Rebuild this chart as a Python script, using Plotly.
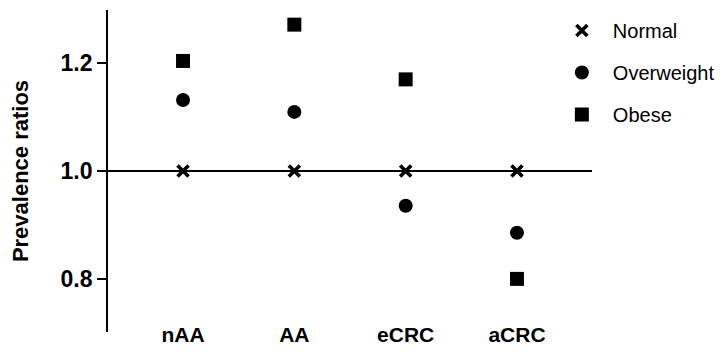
import plotly.graph_objects as go

categories = ["nAA", "AA", "eCRC", "aCRC"]
normal = [1.0, 1.0, 1.0, 1.0]
overweight = [1.131, 1.109, 0.936, 0.886]
obese = [1.203, 1.270, 1.169, 0.801]
y_ticks = [0.8, 1.0, 1.2]

FONT = "Arial, Liberation Sans, sans-serif"
xpos = list(range(len(categories)))

fig = go.Figure()
fig.add_trace(go.Scatter(x=xpos, y=normal, mode="markers", name="Normal", legendgroup="a",
                         marker=dict(symbol="x-thin", size=11, color="black",
                                     line=dict(width=3.6, color="black"))))
fig.add_trace(go.Scatter(x=xpos, y=overweight, mode="markers", name="Overweight", legendgroup="b",
                         marker=dict(symbol="circle", size=14, color="black", line=dict(width=0))))
fig.add_trace(go.Scatter(x=xpos, y=obese, mode="markers", name="Obese", legendgroup="c",
                         marker=dict(symbol="square", size=14, color="black", line=dict(width=0))))

fig.add_shape(type="line", xref="paper", yref="y", x0=0, x1=1, y0=1.0, y1=1.0,
              line=dict(color="black", width=1.8))

fig.update_layout(
    width=727, height=352,
    margin=dict(l=100, r=143, t=2, b=28, autoexpand=False),
    paper_bgcolor="white", plot_bgcolor="white",
    font=dict(family=FONT, color="black"),
    showlegend=True,
    legend=dict(x=0.915, xanchor="left", y=0.997, yanchor="top",
                font=dict(size=20, family=FONT, color="black"),
                tracegroupgap=13, itemwidth=52, bgcolor="rgba(0,0,0,0)"),
    xaxis=dict(range=[-0.674, 3.674], tickvals=xpos, ticktext=categories,
               showline=False, showgrid=False, zeroline=False, ticks="",
               automargin=False,
               tickfont=dict(size=21, family=FONT, color="black", weight="bold"),
               ticklabelstandoff=-12),
    yaxis=dict(range=[0.703, 1.297], tickvals=y_ticks, tickformat=".1f",
               showline=True, linecolor="black", linewidth=1.8,
               ticks="outside", ticklen=9, tickwidth=1.8, tickcolor="black",
               showgrid=False, zeroline=False, automargin=False,
               tickfont=dict(size=23, family=FONT, color="black", weight="bold"),
               title=dict(text="Prevalence ratios", standoff=31,
                          font=dict(size=22, family=FONT, color="black", weight="bold"))),
)

fig.write_html("out.html")
